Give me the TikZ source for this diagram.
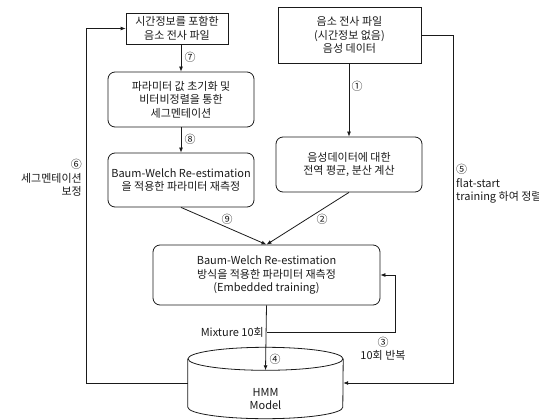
\documentclass[tikz,border=0pt]{standalone}
\usepackage{fontspec}
\setmainfont{Noto Sans CJK KR}
\usetikzlibrary{arrows.meta,positioning,calc}
\definecolor{ink}{HTML}{1A1A1A}
\tikzset{
  >={Latex[length=5pt,width=4pt]},
  every node/.style={font=\fontsize{11}{13.5}\selectfont,text=ink},
  box/.style={draw=ink,line width=0.8pt,align=center,inner sep=2pt},
  rbox/.style={box,rounded corners=7pt},
  dbase/.style={minimum width=155pt,minimum height=48pt,inner sep=0pt},
  line/.style={line width=0.8pt,draw=ink},
  arrow/.style={->,line width=0.8pt,draw=ink},
  num/.style={inner sep=1pt},
  lbl/.style={align=center,inner sep=1pt},
}

\begin{document}
\begin{tikzpicture}[x=1pt,y=-1pt]
\useasboundingbox (0,0) rectangle (539,420);

\node[box,minimum width=102pt,minimum height=31pt] (tfile) at (177,28.5) {시간정보를 포함한\\음소 전사 파일};
\node[box,minimum width=143pt,minimum height=56pt] (src) at (349.5,35) {음소 전사 파일\\(시간정보 없음)\\음성 데이터};
\node[rbox,minimum width=146pt,minimum height=55pt] (seg) at (181,99.5) {파라미터 값 초기화 및\\비터비정렬을 통한\\세그멘테이션};
\node[rbox,minimum width=146pt,minimum height=54pt] (bwre) at (181,180) {Baum-Welch Re-estimation\\을 적용한 파라미터 재측정};
\node[rbox,minimum width=146pt,minimum height=55pt] (glob) at (349,164.5) {음성데이터에 대한\\전역 평균, 분산 계산};
\node[rbox,minimum width=227pt,minimum height=60pt] (main) at (266.5,275) {Baum-Welch Re-estimation\\방식을 적용한 파라미터 재측정\\(Embedded training)};
\node[dbase] (hmm) at (265.5,383) {};
\draw[line] (hmm.north west) -- (hmm.south west) arc[start angle=180,end angle=360,x radius=77.5pt,y radius=11.5pt] -- (hmm.north east);
\draw[line] (hmm.north) ellipse[x radius=77.5pt,y radius=11.5pt];
\node[lbl] (hmmtxt) at (265.5,399) {HMM\\Model};

\node[num] (n7) at (190,57) {⑦};
\node[num] (n8) at (190,139) {⑧};
\node[num] (n1) at (357,86) {①};
\node[num] (n9) at (227,219) {⑨};
\node[num] (n2) at (322,219) {②};
\node[num] (n4) at (275,359) {④};
\node[lbl,align=right,anchor=east] (n6) at (83,178) {⑥\\세그멘테이션\\보정};
\node[lbl,align=left,anchor=west] (n5) at (455,184) {⑤\\flat-start\\training 하여 정렬};
\node[lbl] (n3) at (383,349) {③\\10회 반복};
\node[lbl,anchor=east] (mix) at (265,332) {Mixture 10회};

\draw[arrow] (seg.north |- tfile.south) -- (seg.north);
\draw[arrow] (seg) -- (bwre);
\draw[arrow] (glob.north |- src.south) -- (glob.north);
\draw[arrow] (bwre.south) -- (main.north);
\draw[arrow] (glob.south) -- (main.north);
\draw[arrow] (main.south) -- ([yshift=-11.5pt]hmm.north);
\draw[arrow] (main.south |- mix.east) -- ++(129,0) |- (main.east);
\draw[arrow] (hmm.west) -- ++(-101,0) |- (tfile.west);
\draw[arrow] (src.east) -- ++(32,0) |- (hmm.east);

\end{tikzpicture}
\end{document}
